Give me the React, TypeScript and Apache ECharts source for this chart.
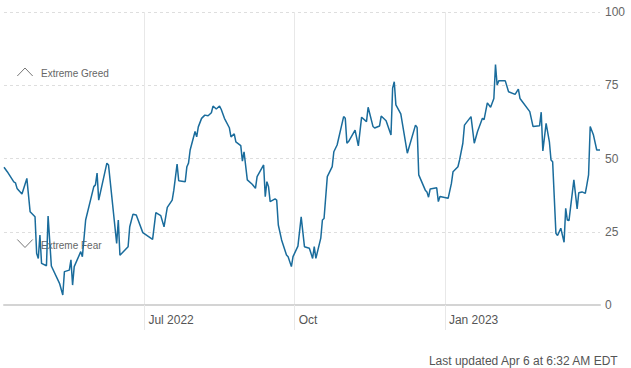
import React, { useEffect, useRef } from "react";
import * as echarts from "echarts";

const dates: string[] = [
  "2022-04-06","2022-04-08","2022-04-12","2022-04-13","2022-04-14","2022-04-17","2022-04-20","2022-04-22","2022-04-25","2022-04-26",
  "2022-04-27","2022-04-28","2022-04-29","2022-05-02","2022-05-03","2022-05-05","2022-05-10","2022-05-12","2022-05-13","2022-05-16",
  "2022-05-17","2022-05-18","2022-05-19","2022-05-23","2022-05-24","2022-05-26","2022-05-31","2022-06-01","2022-06-02","2022-06-03",
  "2022-06-08","2022-06-09","2022-06-14","2022-06-15","2022-06-16","2022-06-21","2022-06-22","2022-06-24","2022-06-26","2022-06-30",
  "2022-07-06","2022-07-08","2022-07-11","2022-07-13","2022-07-15","2022-07-18","2022-07-19","2022-07-21","2022-07-22","2022-07-26",
  "2022-07-27","2022-07-28","2022-07-29","2022-08-01","2022-08-02","2022-08-03","2022-08-05","2022-08-07","2022-08-09","2022-08-11",
  "2022-08-12","2022-08-14","2022-08-16","2022-08-17","2022-08-19","2022-08-22","2022-08-23","2022-08-25","2022-08-26","2022-08-29",
  "2022-08-30","2022-08-31","2022-09-02","2022-09-05","2022-09-07","2022-09-08","2022-09-12","2022-09-13","2022-09-14","2022-09-15",
  "2022-09-16","2022-09-19","2022-09-20","2022-09-21","2022-09-23","2022-09-26","2022-09-27","2022-09-29","2022-09-30","2022-10-03",
  "2022-10-05","2022-10-07","2022-10-10","2022-10-12","2022-10-13","2022-10-14","2022-10-17","2022-10-18","2022-10-19","2022-10-21",
  "2022-10-24","2022-10-25","2022-10-27","2022-10-31","2022-11-01","2022-11-02","2022-11-03","2022-11-07","2022-11-09","2022-11-11",
  "2022-11-14","2022-11-15","2022-11-18","2022-11-19","2022-11-22","2022-11-23","2022-11-26","2022-11-29","2022-11-30","2022-12-01",
  "2022-12-02","2022-12-05","2022-12-09","2022-12-14","2022-12-15","2022-12-16","2022-12-20","2022-12-21","2022-12-22","2022-12-23",
  "2022-12-27","2022-12-28","2022-12-29","2023-01-03","2023-01-05","2023-01-06","2023-01-09","2023-01-10","2023-01-12","2023-01-13",
  "2023-01-17","2023-01-19","2023-01-21","2023-01-24","2023-01-25","2023-01-27","2023-01-29","2023-01-31","2023-02-01","2023-02-02",
  "2023-02-03","2023-02-07","2023-02-09","2023-02-13","2023-02-15","2023-02-16","2023-02-22","2023-02-24","2023-02-28","2023-03-01",
  "2023-03-02","2023-03-04","2023-03-06","2023-03-07","2023-03-08","2023-03-10","2023-03-11","2023-03-13","2023-03-15","2023-03-16",
  "2023-03-17","2023-03-18","2023-03-21","2023-03-23","2023-03-24","2023-03-26","2023-03-28","2023-03-29","2023-03-30","2023-03-31",
  "2023-04-02","2023-04-04","2023-04-06"
];

const values: number[] = [
  47,45.5,42,41.7,39.8,37.9,43.2,31.8,30.1,17.6,
  15.9,23.9,14.2,13.4,30.4,13.3,7.4,3.4,11.4,11.9,
  15.4,6.8,13.1,18.2,16.5,29,40.4,41,45,35.8,
  48.4,47.8,21,29,17,19.9,26.7,31,30.7,24.7,
  22.4,31.5,30.5,26.7,33.3,35.8,39.2,48.1,42.4,42.1,
  47.2,48.4,52.9,59.2,57.4,60.8,63.7,64.8,64.6,65.6,
  67.9,66.9,67.9,66.8,63.7,60.5,57.4,58.4,55.7,54.4,
  49.1,52.3,42.7,41.2,39.8,43.8,47.8,37,42.1,40.4,
  35.3,36.2,35.8,27.3,22.2,17.1,16.5,13.1,16.5,20.1,
  30.1,19.9,19.4,15.9,19.9,15.9,22.8,29,29.5,43.8,
  47.2,52.3,54.6,64.3,63.7,55.2,55.8,59.7,54.3,64.1,
  62.6,67.5,60.9,60.4,61.1,64.5,62.9,58,74,76.2,
  68.3,65.2,51.8,61.4,60.6,44.4,39.2,38.6,36.8,39.6,
  40,35.3,37,36.4,41.5,45.5,47.2,49.5,55.2,61.4,
  64.3,55.2,59.2,63.7,63.3,69,67.5,70.5,82.1,75.1,
  76.5,76.5,72.8,71.9,73.7,70.5,66,60.9,61.2,65.8,
  52.6,62,55.7,49.5,48.9,24.5,23.7,26.2,21.4,33,
  29,28.8,42.7,32.8,38.3,38.6,38.1,41.2,44.4,60.9,
  58,52.9,52.9
];

const xTickDates: string[] = ["2022-07-01", "2022-10-01", "2023-01-01"];
const xTickLabels: string[] = ["Jul 2022", "Oct", "Jan 2023"];
const rangeStart = "2022-04-06";
const rangeEnd = "2023-04-06";
const yTicks: number[] = [0, 25, 50, 75, 100];
const zoneLabels: string[] = ["Extreme Greed", "Extreme Fear"];
const updatedText = "Last updated Apr 6 at 6:32 AM EDT";

const ts = (s: string) => {
  const [y, m, d] = s.split("-").map(Number);
  return new Date(y, m - 1, d).getTime();
};

const FONT = "'Liberation Sans', Arial, sans-serif";

export default function App() {
  const ref = useRef<HTMLDivElement>(null);
  useEffect(() => {
    document.body.style.margin = "0";
    if (!ref.current) return;
    const chart = echarts.init(ref.current, undefined, { renderer: "svg" });
    const tickTs = xTickDates.map(ts);
    chart.setOption({
      animation: false,
      textStyle: { fontFamily: FONT },
      grid: { left: 4, right: 31, top: 12, bottom: 63 },
      title: {
        text: updatedText,
        right: 7,
        top: 350,
        textStyle: { fontFamily: FONT, fontSize: 12, fontWeight: "normal", color: "#555" },
      },
      xAxis: {
        type: "value",
        min: ts(rangeStart),
        max: ts(rangeEnd),
        axisLine: { show: true, lineStyle: { color: "#d4d4d4", width: 2 } },
        axisTick: {
          show: true,
          customValues: tickTs,
          length: 25,
          lineStyle: { color: "#e8e8e8", width: 1 },
        },
        splitLine: { show: true, lineStyle: { color: "#e8e8e8", width: 1, type: "solid" } },
        axisLabel: {
          customValues: tickTs,
          align: "left",
          margin: 9,
          padding: [0, 0, 0, 4],
          color: "#555",
          fontSize: 12,
          fontFamily: FONT,
          formatter: (v: number) => {
            const i = tickTs.findIndex((t) => Math.abs(t - v) < 43200000);
            return i >= 0 ? xTickLabels[i] : "";
          },
        },
      },
      yAxis: {
        type: "value",
        position: "right",
        min: yTicks[0],
        max: yTicks[yTicks.length - 1],
        interval: 25,
        axisLine: { show: false },
        axisTick: { show: false },
        axisLabel: { color: "#666", fontSize: 12, margin: 5, fontFamily: FONT },
        splitLine: { show: true, lineStyle: { color: "#dedede", type: [3, 3], width: 1 } },
      },
      graphic: [
        {
          type: "polyline",
          z: 1,
          shape: { points: [[17.3, 76], [25, 68], [32.7, 76]] },
          style: { stroke: "#777", lineWidth: 1, fill: null },
        },
        {
          type: "text",
          z: 1,
          x: 41,
          y: 73,
          style: { text: zoneLabels[0], fill: "#666", font: `10px ${FONT}`, verticalAlign: "middle" },
        },
        {
          type: "polyline",
          z: 1,
          shape: { points: [[17.3, 239.5], [25, 247.5], [32.7, 239.5]] },
          style: { stroke: "#777", lineWidth: 1, fill: null },
        },
        {
          type: "text",
          z: 1,
          x: 41,
          y: 245,
          style: { text: zoneLabels[1], fill: "#666", font: `10px ${FONT}`, verticalAlign: "middle" },
        },
      ],
      series: [
        {
          type: "line",
          data: dates.map((d, i) => [ts(d), values[i]]),
          showSymbol: false,
          symbol: "none",
          z: 3,
          lineStyle: { color: "#1a6c9c", width: 1.5 },
        },
      ],
    });
    return () => chart.dispose();
  }, []);
  return <div ref={ref} style={{ width: 631, height: 368 }} />;
}
